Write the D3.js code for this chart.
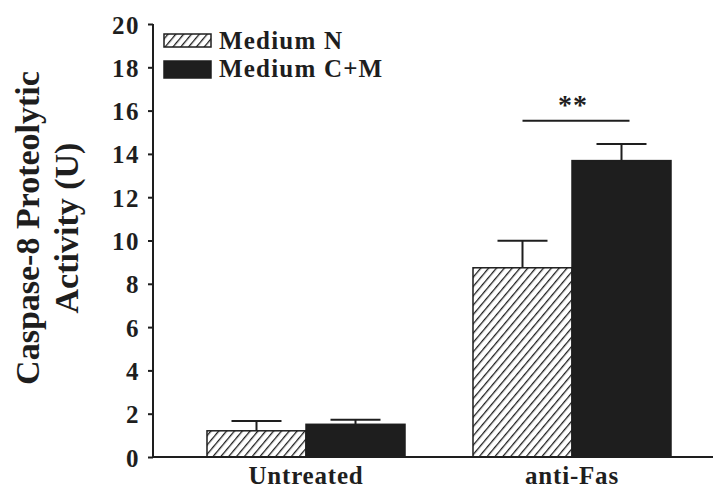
<!DOCTYPE html>
<html>
<head>
<meta charset="utf-8">
<script src="https://cdn.jsdelivr.net/npm/d3@7"></script>
<style>
  html, body { margin: 0; padding: 0; background: #fff; }
  svg { display: block; }
  text { font-family: "Liberation Serif", "Times New Roman", serif; font-weight: bold; fill: #1e1e1e; }
</style>
</head>
<body>
<svg id="chart" width="713" height="493"></svg>
<script>
// Caspase-8 activity by treatment and culture medium
const groups = ["Untreated", "anti-Fas"];
const series = ["Medium N", "Medium C+M"];
const meanN   = [1.21, 8.74];
const meanCM  = [1.51, 13.69];
const errN    = [0.45, 1.25];
const errCM   = [0.21, 0.77];
const yTicks  = [0, 2, 4, 6, 8, 10, 12, 14, 16, 18, 20];
const sigLevel = 15.53;
const sigLabel = "**";

const ink = "#1e1e1e";
const svg = d3.select("#chart");

const axisX = 153;
const y = d3.scaleLinear().domain([0, 20]).range([457, 24]);

const x0 = d3.scaleBand().domain(groups).range([173, 705])
  .paddingInner(0.2556).paddingOuter(0.1278);
const x1 = d3.scaleBand().domain(series).range([0, x0.bandwidth()]);

// diagonal hatch for Medium N
const defs = svg.append("defs");
const pat = defs.append("pattern")
  .attr("id", "hatch").attr("patternUnits", "userSpaceOnUse")
  .attr("width", 6).attr("height", 6)
  .attr("patternTransform", "rotate(40)");
pat.append("rect").attr("width", 6).attr("height", 6).attr("fill", "#fff");
pat.append("line").attr("x1", 0).attr("y1", 0).attr("x2", 0).attr("y2", 6)
  .attr("stroke", ink).attr("stroke-width", 2.6);

const fills = { "Medium N": "url(#hatch)", "Medium C+M": ink };

const rows = [];
groups.forEach((g, i) => {
  rows.push({ g, s: series[0], v: meanN[i], e: errN[i] });
  rows.push({ g, s: series[1], v: meanCM[i], e: errCM[i] });
});

// error bars (drawn first so the bar edge covers the stem base)
const eb = svg.append("g").attr("stroke", ink).attr("stroke-width", 2);
rows.forEach(d => {
  const cx = x0(d.g) + x1(d.s) + x1.bandwidth() / 2;
  eb.append("line").attr("x1", cx).attr("x2", cx)
    .attr("y1", y(d.v)).attr("y2", y(d.v + d.e));
  eb.append("line").attr("x1", cx - 25).attr("x2", cx + 25)
    .attr("y1", y(d.v + d.e)).attr("y2", y(d.v + d.e));
});

// bars
svg.append("g").selectAll("rect").data(rows).join("rect")
  .attr("x", d => x0(d.g) + x1(d.s))
  .attr("y", d => y(d.v))
  .attr("width", x1.bandwidth())
  .attr("height", d => y(0) - y(d.v))
  .attr("fill", d => fills[d.s])
  .attr("stroke", ink).attr("stroke-width", 1.5);

// y axis
const yAxis = d3.axisLeft(y).tickValues(yTicks).tickSize(5).tickPadding(8);
const ya = svg.append("g").attr("transform", `translate(${axisX},0)`).call(yAxis);
ya.select(".domain").attr("stroke", ink).attr("stroke-width", 2).attr("d", `M-0,${y(20)}V${y(0)}`);
ya.selectAll(".tick line").attr("stroke", ink).attr("stroke-width", 2);
ya.selectAll(".tick text").attr("font-size", 25).attr("letter-spacing", 1.5)
  .attr("fill", ink).attr("font-family", "Liberation Serif").attr("font-weight", "bold")
  .attr("dy", "0.36em");

// x baseline and group labels
svg.append("line").attr("x1", axisX).attr("x2", 713)
  .attr("y1", y(0)).attr("y2", y(0)).attr("stroke", ink).attr("stroke-width", 2);
const xAxis = d3.axisBottom(x0).tickSize(0).tickPadding(9);
const xa = svg.append("g").attr("transform", `translate(0,${y(0)})`).call(xAxis);
xa.select(".domain").remove();
xa.selectAll(".tick text").attr("font-size", 25).attr("letter-spacing", 0.8)
  .attr("fill", ink).attr("font-family", "Liberation Serif").attr("font-weight", "bold");

// significance bracket between anti-Fas bars
const gSig = groups[1];
const sx1 = x0(gSig) + x1(series[0]) + x1.bandwidth() / 2;
const sx2 = x0(gSig) + x1(series[1]) + x1.bandwidth() / 2 + 8;
svg.append("line").attr("x1", sx1).attr("x2", sx2)
  .attr("y1", y(sigLevel)).attr("y2", y(sigLevel))
  .attr("stroke", ink).attr("stroke-width", 2);
svg.append("text").attr("x", x0(gSig) + x0.bandwidth() / 2 + 1).attr("y", y(sigLevel) - 7)
  .attr("text-anchor", "middle").attr("font-size", 28).attr("letter-spacing", 1).text(sigLabel);

// legend
const legend = [
  { s: series[0], top: 34, h: 13, base: 49 },
  { s: series[1], top: 61, h: 17, base: 77 }
];
legend.forEach(l => {
  svg.append("rect").attr("x", 164).attr("y", l.top).attr("width", 47).attr("height", l.h)
    .attr("fill", fills[l.s]).attr("stroke", ink).attr("stroke-width", 1.5);
  svg.append("text").attr("x", 219).attr("y", l.base)
    .attr("font-size", 25).attr("letter-spacing", 1.2).text(l.s);
});

// y axis title
const title = svg.append("text").attr("transform", "translate(0,228) rotate(-90)")
  .attr("text-anchor", "middle").attr("font-size", 34);
title.append("tspan").attr("x", 0).attr("y", 39).text("Caspase-8 Proteolytic");
title.append("tspan").attr("x", 0).attr("y", 78).text("Activity (U)");
</script>
</body>
</html>
